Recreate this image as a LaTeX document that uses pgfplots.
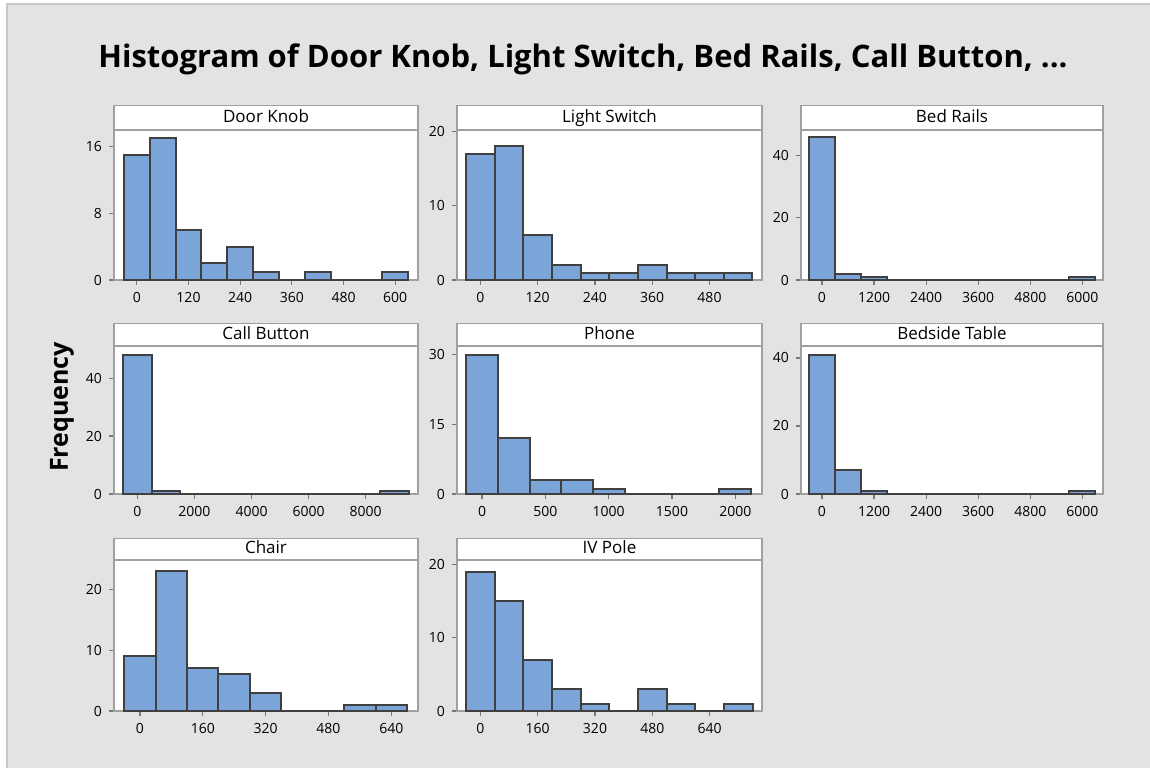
\documentclass[border=0pt]{standalone}
\usepackage{fontspec}
\setmainfont{Open Sans}
\usepackage{pgfplots}
\pgfplotsset{compat=1.18}
\definecolor{bg}{RGB}{227,227,227}
\definecolor{bord}{RGB}{200,200,200}
\definecolor{barfill}{RGB}{123,164,216}
\definecolor{barline}{RGB}{64,64,64}
\definecolor{framec}{RGB}{160,160,160}
\definecolor{tickc}{RGB}{120,120,120}
\pgfplotsset{
 panel/.style={
  scale only axis,
  clip=false,
  axis background/.style={fill=white},
  axis line style={framec, line width=0.7pt},
  tick align=outside, tick pos=left,
  major tick length=2.5pt,
  tick style={tickc, line width=0.6pt},
  ymin=0,
  tick label style={font=\fontsize{7}{8}\selectfont, text=black},
  /pgf/number format/assume math mode=true,
  /pgf/number format/1000 sep={},
  scaled ticks=false,
  every axis title/.style={at={(0.5,1)}, anchor=south, draw=framec, line width=0.7pt, fill=white, inner sep=0pt,
    text height=0.72em, text depth=0.22em,
    minimum width=\pgfkeysvalueof{/pgfplots/width}, font=\fontsize{8.5}{9}\selectfont},
 },
 hbar/.style={ybar interval, fill=barfill, draw=barline, line width=1pt},
}
\begin{document}
\begin{tikzpicture}
\useasboundingbox (0,0) rectangle (575pt,383.5pt);
\fill[white] (0,0) rectangle (575pt,383.5pt);
\filldraw[fill=bg, draw=bord, line width=0.8pt] (3.5pt,-2pt) rectangle (577pt,381.5pt);
\node[anchor=base, font=\fontsize{15.5}{19}\selectfont\bfseries] at (291.5pt,349.5pt) {Histogram of Door Knob, Light Switch, Bed Rails, Call Button, ...};
\node[rotate=90, font=\fontsize{12.5}{14}\selectfont\bfseries] at (31pt,180pt) {Frequency};

% Row 1
\begin{axis}[panel, at={(57pt,243.5pt)}, anchor=south west, width=152pt, height=75pt,
  title={Door Knob}, title style={minimum height=12pt},
  xmin=-53, xmax=653, ymax=18, xtick={0,120,240,360,480,600}, ytick={0,8,16}]
\addplot[hbar] coordinates {(-30,15) (30,17) (90,6) (150,2) (210,4) (270,1) (330,0) (390,1) (450,0) (510,0) (570,1) (630,1)};
\end{axis}
\begin{axis}[panel, at={(228.5pt,243.5pt)}, anchor=south west, width=152.5pt, height=75pt,
  title={Light Switch}, title style={minimum height=12pt},
  xmin=-49, xmax=590, ymax=20.2, xtick={0,120,240,360,480}, ytick={0,10,20}]
\addplot[hbar] coordinates {(-30,17) (30,18) (90,6) (150,2) (210,1) (270,1) (330,2) (390,1) (450,1) (510,1) (570,1)};
\end{axis}
\begin{axis}[panel, at={(400.5pt,243.5pt)}, anchor=south west, width=151pt, height=75pt,
  title={Bed Rails}, title style={minimum height=12pt},
  xmin=-483, xmax=6475, ymax=48.2, xtick={0,1200,2400,3600,4800,6000}, ytick={0,20,40}]
\addplot[hbar] coordinates {(-300,46) (300,2) (900,1) (1500,0) (2100,0) (2700,0) (3300,0) (3900,0) (4500,0) (5100,0) (5700,1) (6300,1)};
\end{axis}

% Row 2
\begin{axis}[panel, at={(57pt,136.5pt)}, anchor=south west, width=152pt, height=74pt,
  title={Call Button}, title style={minimum height=11pt},
  xmin=-816, xmax=9831, ymax=51.1, xtick={0,2000,4000,6000,8000}, ytick={0,20,40}]
\addplot[hbar] coordinates {(-500,48) (500,1) (1500,0) (2500,0) (3500,0) (4500,0) (5500,0) (6500,0) (7500,0) (8500,1) (9500,1)};
\end{axis}
\begin{axis}[panel, at={(228.5pt,136.5pt)}, anchor=south west, width=152.5pt, height=74pt,
  title={Phone}, title style={minimum height=11pt},
  xmin=-198, xmax=2211, ymax=31.9, xtick={0,500,1000,1500,2000}, ytick={0,15,30}]
\addplot[hbar] coordinates {(-125,30) (125,12) (375,3) (625,3) (875,1) (1125,0) (1375,0) (1625,0) (1875,1) (2125,1)};
\end{axis}
\begin{axis}[panel, at={(400.5pt,136.5pt)}, anchor=south west, width=151pt, height=74pt,
  title={Bedside Table}, title style={minimum height=11pt},
  xmin=-483, xmax=6475, ymax=43.5, xtick={0,1200,2400,3600,4800,6000}, ytick={0,20,40}]
\addplot[hbar] coordinates {(-300,41) (300,7) (900,1) (1500,0) (2100,0) (2700,0) (3300,0) (3900,0) (4500,0) (5100,0) (5700,1) (6300,1)};
\end{axis}

% Row 3
\begin{axis}[panel, at={(57pt,28pt)}, anchor=south west, width=152pt, height=75.5pt,
  title={Chair}, title style={minimum height=10.5pt},
  xmin=-66, xmax=708, ymax=24.8, xtick={0,160,320,480,640}, ytick={0,10,20}]
\addplot[hbar] coordinates {(-40,9) (40,23) (120,7) (200,6) (280,3) (360,0) (440,0) (520,1) (600,1) (680,1)};
\end{axis}
\begin{axis}[panel, at={(228.5pt,28pt)}, anchor=south west, width=152.5pt, height=75.5pt,
  title={IV Pole}, title style={minimum height=10.5pt},
  xmin=-65, xmax=786, ymax=20.6, xtick={0,160,320,480,640}, ytick={0,10,20}]
\addplot[hbar] coordinates {(-40,19) (40,15) (120,7) (200,3) (280,1) (360,0) (440,3) (520,1) (600,0) (680,1) (760,1)};
\end{axis}
\end{tikzpicture}
\end{document}
